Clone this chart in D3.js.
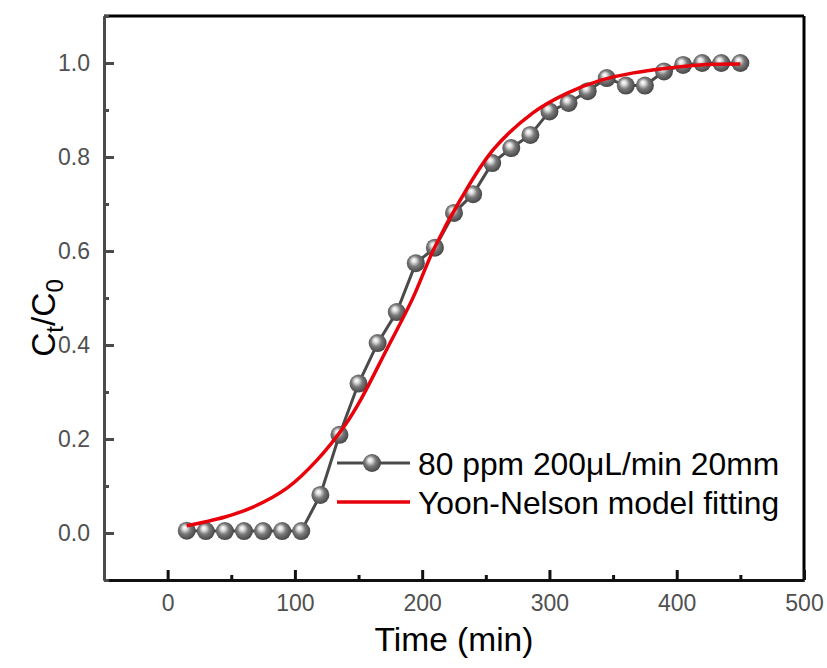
<!DOCTYPE html>
<html><head><meta charset="utf-8">
<script src="https://cdn.jsdelivr.net/npm/d3@7"></script>
<style>body{margin:0;background:#fff} svg{display:block}</style>
</head><body><svg id="c" width="827" height="668"></svg>
<script>
// ---- data ----
const times = [15,30,45,60,75,90,105,120,135,150,165,180,195,210,225,240,255,270,285,300,315,330,345,360,375,390,405,420,435,450];
const ratio = [0.005,0.004,0.004,0.004,0.004,0.004,0.004,0.081,0.209,0.318,0.404,0.47,0.574,0.607,0.681,0.721,0.787,0.819,0.847,0.897,0.915,0.94,0.968,0.952,0.952,0.982,0.996,1.0,1.0,1.0];
const fitTimes = [15,30,45,67,94,117,140,152,172,192,209,230,256,287,314,340,366,392,418,450];
const fitValues = [0.0155,0.024,0.034,0.055,0.096,0.154,0.232,0.285,0.39,0.496,0.603,0.709,0.816,0.894,0.936,0.963,0.979,0.989,0.996,0.998];
const xTicks = [0,100,200,300,400,500];
const xMinor = [-50,50,150,250,350,450];
const yTicks = [0,0.2,0.4,0.6,0.8,1.0];
const yMinor = [-0.1,0.1,0.3,0.5,0.7,0.9,1.1];
const seriesNames = ["80 ppm 200μL/min 20mm", "Yoon-Nelson model fitting"];
const xTitle = "Time (min)";

// ---- layout ----
const L = 104, R = 804, T = 16, B = 580;
const svg = d3.select("#c");
const font = "'Liberation Sans', Arial, sans-serif";
const x = d3.scaleLinear().domain([-50,500]).range([L,R]);
const y = d3.scaleLinear().domain([-0.1,1.1]).range([B,T]);

const defs = svg.append("defs");
const g = defs.append("radialGradient").attr("id","ball").attr("cx","45%").attr("cy","45%").attr("r","55%").attr("fx","38%").attr("fy","32%");
g.append("stop").attr("offset","0%").attr("stop-color","#ffffff");
g.append("stop").attr("offset","22%").attr("stop-color","#e0e0e0");
g.append("stop").attr("offset","55%").attr("stop-color","#7a7a7a");
g.append("stop").attr("offset","100%").attr("stop-color","#464646");

// frame top/right
svg.append("line").attr("x1",L).attr("x2",R).attr("y1",T).attr("y2",T).attr("stroke","#000").attr("stroke-width",3);
svg.append("line").attr("x1",R).attr("x2",R).attr("y1",T).attr("y2",B).attr("stroke","#000").attr("stroke-width",3);

// axes
const xAxis = svg.append("g").attr("transform",`translate(0,${B})`)
  .call(d3.axisBottom(x).tickValues(xTicks).tickSizeInner(-10).tickSizeOuter(0).tickPadding(14.5).tickFormat(d3.format("d")));
const xAxisMinor = svg.append("g").attr("transform",`translate(0,${B})`)
  .call(d3.axisBottom(x).tickValues(xMinor).tickSizeInner(-5).tickSizeOuter(0).tickFormat(""));
const yAxis = svg.append("g").attr("transform",`translate(${L},0)`)
  .call(d3.axisLeft(y).tickValues(yTicks).tickSizeInner(-10).tickSizeOuter(0).tickPadding(14).tickFormat(d3.format(".1f")));
const yAxisMinor = svg.append("g").attr("transform",`translate(${L},0)`)
  .call(d3.axisLeft(y).tickValues(yMinor).tickSizeInner(-5).tickSizeOuter(0).tickFormat(""));

[xAxis,xAxisMinor].forEach(a=>{a.select(".domain").attr("stroke","#111").attr("stroke-width",3);
  a.selectAll(".tick line").attr("stroke","#111").attr("stroke-width",3);});
[yAxis,yAxisMinor].forEach(a=>{a.select(".domain").attr("stroke","#4a4a4a").attr("stroke-width",3);
  a.selectAll(".tick line").attr("stroke","#4a4a4a").attr("stroke-width",3);});
svg.selectAll(".tick text").attr("font-family",font).attr("font-size",23).attr("fill","#505050");

// data line
const line = d3.line().x((d,i)=>x(times[i])).y(d=>y(d));
svg.append("path").datum(ratio).attr("d",line).attr("fill","none").attr("stroke","#4a4a4a").attr("stroke-width",3);
svg.append("g").selectAll("circle").data(ratio).join("circle")
  .attr("cx",(d,i)=>x(times[i])).attr("cy",d=>y(d)).attr("r",9).attr("fill","url(#ball)");

// fit curve
const fitLine = d3.line().x((d,i)=>x(fitTimes[i])).y(d=>y(d)).curve(d3.curveCatmullRom.alpha(0.5));
svg.append("path").datum(fitValues).attr("d",fitLine).attr("fill","none").attr("stroke","#e8000b").attr("stroke-width",3.5);

// legend
const lg = svg.append("g");
lg.append("line").attr("x1",337).attr("x2",410).attr("y1",463).attr("y2",463).attr("stroke","#4a4a4a").attr("stroke-width",3);
lg.append("circle").attr("cx",372).attr("cy",463).attr("r",9).attr("fill","url(#ball)");
lg.append("line").attr("x1",337).attr("x2",410).attr("y1",502).attr("y2",502).attr("stroke","#e8000b").attr("stroke-width",3.5);
lg.append("text").attr("x",418).attr("y",475).text(seriesNames[0]).attr("font-family",font).attr("font-size",31.8).attr("fill","#000");
lg.append("text").attr("x",418).attr("y",514).text(seriesNames[1]).attr("font-family",font).attr("font-size",31.8).attr("fill","#000");

// titles
svg.append("text").attr("x",(L+R)/2).attr("y",651).attr("text-anchor","middle").attr("font-family",font).attr("font-size",33.5).attr("fill","#000").text(xTitle);
const yt = svg.append("text").attr("transform","translate(55,318) rotate(-90)").attr("text-anchor","middle").attr("font-family",font).attr("font-size",33.5).attr("fill","#000");
yt.append("tspan").text("C");
yt.append("tspan").attr("font-size",24).attr("dy",8).text("t");
yt.append("tspan").attr("dy",-8).text("/C");
yt.append("tspan").attr("font-size",24).attr("dy",8).text("0");
</script></body></html>
